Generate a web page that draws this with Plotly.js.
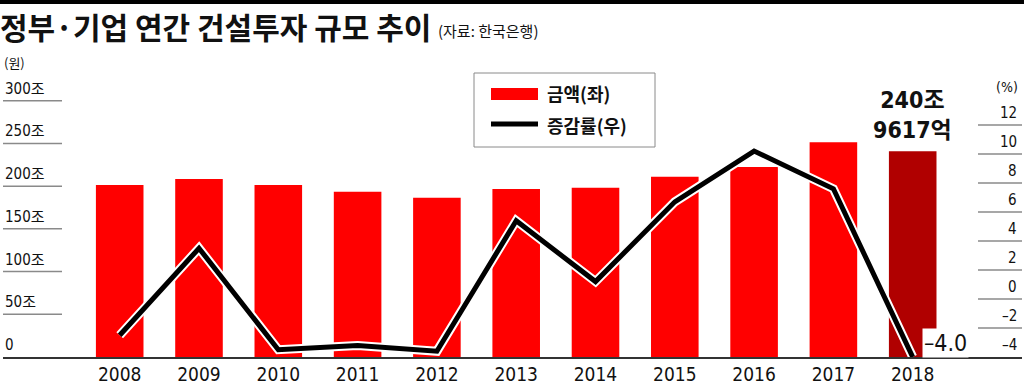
<!DOCTYPE html>
<html>
<head>
<meta charset="utf-8">
<script src="https://cdn.plot.ly/plotly-3.0.1.min.js"></script>
<style>html,body{margin:0;padding:0;background:#fff;}#chart{width:1024px;height:384px;}</style>
</head>
<body>
<div id="chart"></div>
<script>
// ---- data ----
const years = ['2008','2009','2010','2011','2012','2013','2014','2015','2016','2017','2018'];
const amounts = [201.3, 208.4, 201.3, 193.5, 186.5, 196.6, 198.2, 211.1, 222.5, 251.3, 240.96]; // 조원 (left)
const growth = [-2.5, 3.5, -3.5, -3.2, -3.6, 5.4, 1.2, 6.7, 10.2, 7.6, -4.0]; // % (right)
const leftTicks = [0, 50, 100, 150, 200, 250, 300];
const leftTickLabels = ['0', '50조', '100조', '150조', '200조', '250조', '300조'];
const rightTicks = [-4, -2, 0, 2, 4, 6, 8, 10, 12];
const rightTickLabels = ['–4', '–2', '0', '2', '4', '6', '8', '10', '12'];
const seriesNames = ['금액(좌)', '증감률(우)'];
const titleText = '정부·기업 연간 건설투자 규모 추이';
const sourceText = '(자료: 한국은행)';
const lastLabel = '240조<br>9617억';
const lastGrowthLabel = '–4.0';

// ---- layout helpers (pixel -> paper) ----
const W = 1024, H = 384, ML = 3, MR = 2, MT = 60, MB = 27;
const PW = W - ML - MR, PH = H - MT - MB;
const px = x => (x - ML) / PW;
const py = y => (H - MB - y) / PH;

const numFont = 'DejaVu Sans Condensed, Noto Sans CJK KR, sans-serif';
const krFont = 'Noto Sans CJK KR, sans-serif';

const lastIdx = years.length - 1;
const barColors = amounts.map((v, i) => i === lastIdx ? '#b00000' : '#ff0000');

const traces = [
  {type: 'bar', x: years, y: amounts, name: seriesNames[0], marker: {color: barColors}, width: 0.6, yaxis: 'y'},
  {type: 'scatter', mode: 'lines', x: years, y: growth, yaxis: 'y2', line: {color: '#ffffff', width: 9}, showlegend: false},
  {type: 'scatter', mode: 'lines', x: years, y: growth, name: seriesNames[1], yaxis: 'y2', line: {color: '#000000', width: 5}}
];

const shapes = [];
const annotations = [];

// top black rule
shapes.push({type: 'rect', xref: 'paper', yref: 'paper', x0: px(0), x1: px(1024), y0: py(4), y1: py(0), fillcolor: '#000', line: {width: 0}});

// left gridlines + labels
leftTicks.forEach((v, i) => {
  if (v !== 0) shapes.push({type: 'line', xref: 'paper', yref: 'y', x0: px(3), x1: px(62), y0: v, y1: v, line: {color: '#8a8a8a', width: 1.5}});
  annotations.push({xref: 'paper', yref: 'y', x: px(3), y: v, xanchor: 'left', yanchor: 'bottom', yshift: 1, showarrow: false,
    text: leftTickLabels[i], font: {family: numFont, size: 15, color: '#111'}});
});
// right gridlines + labels
rightTicks.forEach((v, i) => {
  if (v !== rightTicks[0]) shapes.push({type: 'line', xref: 'paper', yref: 'y2', x0: px(978), x1: px(1022), y0: v, y1: v, line: {color: '#8a8a8a', width: 1.5}});
  annotations.push({xref: 'paper', yref: 'y2', x: px(1019), y: v, xanchor: 'right', yanchor: 'bottom', yshift: 1, showarrow: false,
    text: rightTickLabels[i], font: {family: numFont, size: 15, color: '#111'}});
});
// unit labels
annotations.push({xref: 'paper', yref: 'paper', x: px(2), y: py(63), xanchor: 'left', yanchor: 'middle', showarrow: false,
  text: '(원)', font: {family: krFont, size: 13, color: '#111'}});
annotations.push({xref: 'paper', yref: 'paper', x: px(1020), y: py(87), xanchor: 'right', yanchor: 'middle', showarrow: false,
  text: '(%)', font: {family: numFont, size: 14, color: '#111'}});

// source
annotations.push({xref: 'paper', yref: 'paper', x: px(436), y: py(30), xanchor: 'left', yanchor: 'middle', showarrow: false,
  text: sourceText, font: {family: krFont, size: 15, color: '#111'}});

// legend (manual)
shapes.push({type: 'rect', xref: 'paper', yref: 'paper', x0: px(474), x1: px(655), y0: py(147), y1: py(73), fillcolor: '#fff', line: {color: '#8a8a8a', width: 1}});
shapes.push({type: 'rect', xref: 'paper', yref: 'paper', x0: px(491), x1: px(538), y0: py(100), y1: py(88), fillcolor: '#ff0000', line: {width: 0}});
shapes.push({type: 'line', xref: 'paper', yref: 'paper', x0: px(491), x1: px(538), y0: py(124), y1: py(124), line: {color: '#000', width: 5}});
annotations.push({xref: 'paper', yref: 'paper', x: px(545), y: py(93), xanchor: 'left', yanchor: 'middle', showarrow: false,
  text: '<b>' + seriesNames[0] + '</b>', font: {family: krFont, size: 18, color: '#111'}});
annotations.push({xref: 'paper', yref: 'paper', x: px(545), y: py(125), xanchor: 'left', yanchor: 'middle', showarrow: false,
  text: '<b>' + seriesNames[1] + '</b>', font: {family: krFont, size: 18, color: '#111'}});

// last bar label
annotations.push({xref: 'x', yref: 'y', x: lastIdx, y: amounts[lastIdx], xanchor: 'center', yanchor: 'bottom', yshift: 6, showarrow: false,
  text: '<b>' + lastLabel + '</b>', font: {family: numFont, size: 23, color: '#111'}});
// last growth label
annotations.push({xref: 'x', yref: 'y2', x: lastIdx, y: growth[lastIdx], xanchor: 'left', yanchor: 'middle', xshift: 9, yshift: 14, showarrow: false,
  text: lastGrowthLabel, bgcolor: '#ffffff', font: {family: numFont, size: 23, color: '#111'}});

const layout = {
  width: W, height: H,
  margin: {l: ML, r: MR, t: MT, b: MB, pad: 0},
  paper_bgcolor: '#fff', plot_bgcolor: 'rgba(0,0,0,0)',
  showlegend: false,
  title: {text: '<b>' + titleText + '</b>', x: 0, xref: 'container', xanchor: 'left', y: 1 - 28 / H, yanchor: 'middle',
    font: {family: krFont, size: 30, color: '#111'}},
  xaxis: {type: 'category', range: [(3 - 119.7) / 79.3, (1022 - 119.7) / 79.3], showgrid: false, zeroline: false,
    showline: true, linecolor: '#333', linewidth: 1.5, ticks: '', ticklabelstandoff: 0,
    tickfont: {family: numFont, size: 19, color: '#111'}, fixedrange: true},
  yaxis: {range: [0, PH / 0.8543], showgrid: false, zeroline: false, showticklabels: false, showline: false, fixedrange: true},
  yaxis2: {range: [-4, -4 + PH / 14.5], overlaying: 'y', side: 'right', showgrid: false, zeroline: false, showticklabels: false, showline: false, fixedrange: true},
  bargap: 0.4,
  shapes: shapes,
  annotations: annotations
};

Plotly.newPlot('chart', traces, layout, {displayModeBar: false, staticPlot: true});
</script>
</body>
</html>
